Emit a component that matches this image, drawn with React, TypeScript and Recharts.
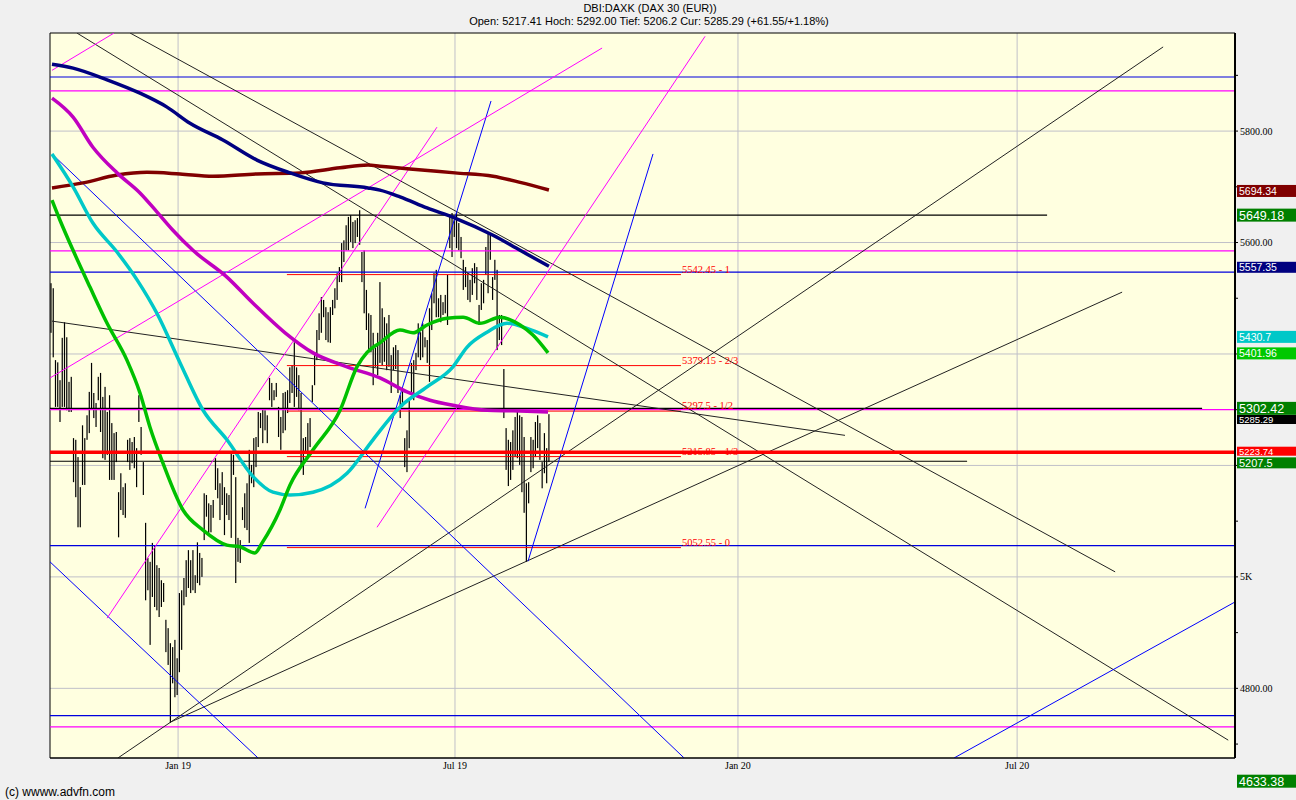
import React from "react";
import {
  ComposedChart,
  Bar,
  Line,
  XAxis,
  YAxis,
  CartesianGrid,
  ReferenceLine,
  ReferenceDot,
  ReferenceArea,
} from "recharts";

// x = trading day index (0 = first bar, Oct 2018), y = index points
const X_MIN = -0.44;
const X_MAX = 525.5;
const Y_MIN = 4675;
const Y_MAX = 5976;

const monthTicks = [56.4, 179.3, 304.9, 428.8];
const monthLabels = ["Jan 19", "Jul 19", "Jan 20", "Jul 20"];
const yTicks = [4700, 4800, 4900, 5000, 5100, 5200, 5300, 5400, 5500, 5600, 5700, 5800, 5900];
const yLabelled = [4800, 5000, 5600, 5800];
const gridLevels = [4800, 5000, 5200, 5400, 5600, 5800];

// daily [low, high]
const dailyRanges: [number, number][] = [
  [5438, 5527], [5394, 5518], [5305, 5389], [5305, 5385], [5278, 5353], [5305, 5429], [5305, 5457], [5299, 5430],
  [5296, 5350], [5296, 5359], [5170, 5249], [5143, 5246], [5089, 5215], [5089, 5161], [5165, 5272], [5165, 5249],
  [5246, 5290], [5258, 5332], [5303, 5384], [5285, 5330], [5269, 5312], [5317, 5359], [5260, 5366], [5213, 5323],
  [5210, 5341], [5219, 5296], [5174, 5326], [5174, 5276], [5174, 5258], [5206, 5260], [5071, 5152], [5120, 5186],
  [5111, 5161], [5106, 5168], [5206, 5246], [5192, 5249], [5204, 5242], [5195, 5251], [5161, 5231], [5278, 5326],
  [5219, 5269], [5147, 5206], [4958, 5097], [4976, 5034], [4878, 5027], [4964, 5061], [4946, 5057], [4940, 5021],
  [4928, 5016], [4946, 4994], [4955, 4989], [4865, 4923], [4842, 4908], [4738, 4881], [4809, 4874], [4784, 4887],
  [4788, 4854], [4829, 4971], [4869, 4976], [4949, 4998], [4964, 5030], [4980, 5048], [4971, 5030], [4976, 5048],
  [4971, 5003], [4989, 5062], [4985, 5043], [5000, 5034], [5066, 5150], [5108, 5147], [5079, 5132], [5080, 5129],
  [5106, 5138], [5156, 5213], [5141, 5195], [5102, 5168], [5129, 5188], [5075, 5161], [5111, 5150], [5102, 5147],
  [5070, 5222], [5183, 5219], [4989, 5179], [5027, 5070], [5025, 5066], [5102, 5125], [5088, 5150], [5084, 5168],
  [5061, 5228], [5168, 5201], [5161, 5249], [5197, 5251], [5233, 5296], [5267, 5294], [5240, 5303], [5263, 5299],
  [5240, 5290], [5317, 5357], [5305, 5348], [5317, 5335], [5323, 5348], [5251, 5305], [5228, 5287], [5258, 5330],
  [5263, 5332], [5294, 5335], [5312, 5376], [5330, 5380], [5305, 5421], [5323, 5376], [5299, 5362], [5197, 5330],
  [5183, 5249], [5222, 5251], [5213, 5276], [5233, 5285], [5314, 5344], [5344, 5398], [5389, 5443], [5425, 5473],
  [5438, 5502], [5466, 5497], [5425, 5484], [5421, 5475], [5420, 5484], [5470, 5497], [5482, 5518], [5497, 5545],
  [5529, 5556], [5529, 5599], [5565, 5604], [5586, 5631], [5586, 5646], [5601, 5649], [5590, 5637], [5599, 5640],
  [5610, 5644], [5596, 5658], [5529, 5583], [5473, 5586], [5443, 5515], [5402, 5473], [5403, 5470], [5344, 5438],
  [5377, 5411], [5362, 5438], [5384, 5529], [5380, 5482], [5386, 5466], [5371, 5455], [5377, 5470], [5330, 5398],
  [5371, 5412], [5373, 5416], [5330, 5407], [5285, 5326], [5305, 5335], [5197, 5249], [5188, 5263], [5231, 5321],
  [5326, 5384], [5317, 5389], [5371, 5402], [5394, 5455], [5389, 5439], [5394, 5455], [5412, 5430], [5384, 5425],
  [5350, 5482], [5443, 5509], [5491, 5545], [5466, 5551], [5466, 5500], [5457, 5506], [5470, 5493], [5473, 5506],
  [5452, 5542], [5590, 5646], [5574, 5653], [5610, 5640], [5590, 5653], [5586, 5635], [5572, 5610], [5515, 5569],
  [5520, 5556], [5497, 5545], [5493, 5533], [5506, 5554], [5527, 5563], [5497, 5556], [5452, 5488], [5479, 5527],
  [5491, 5533], [5542, 5592], [5509, 5617], [5569, 5617], [5497, 5538], [5533, 5569], [5407, 5551], [5425, 5470],
  [5416, 5470], [5285, 5373], [5192, 5267], [5163, 5246], [5174, 5242], [5192, 5263], [5215, 5287], [5213, 5296],
  [5201, 5290], [5152, 5287], [5115, 5251], [5027, 5168], [5132, 5170], [5188, 5251], [5195, 5246], [5215, 5278],
  [5231, 5290], [5210, 5276], [5159, 5206], [5186, 5258], [5168, 5231], [5206, 5292],
];

// moving averages, [t, value]
const maMaroon: [number, number][] = [
  [0.44, 5698], [14.2, 5707], [29.3, 5721], [42.6, 5726], [57.3, 5723], [71.9, 5719], [91.4, 5723], [110.5, 5725],
  [128.3, 5734], [140.7, 5739], [146, 5737], [159.3, 5732], [179.3, 5725], [196.2, 5719], [208.2, 5708], [221, 5694.34],
];
const maNavy: [number, number][] = [
  [0.44, 5920], [9.8, 5913], [24.9, 5892], [39.5, 5868], [51.5, 5843], [61.7, 5814], [76.3, 5784], [91.4, 5748],
  [106.1, 5725], [120.7, 5707], [140.7, 5698], [146, 5694], [154.9, 5682], [166.9, 5662], [179.3, 5644], [196.2, 5613],
  [208.2, 5586], [221, 5557.35],
];
const maPurple: [number, number][] = [
  [0.44, 5859], [9.8, 5825], [18.6, 5771], [29.3, 5725], [39.5, 5689], [47, 5655], [54.1, 5622], [63, 5586],
  [78.1, 5538], [89.7, 5491], [103.9, 5438], [116.3, 5402], [131.4, 5377], [146, 5357], [158, 5332], [168.2, 5317],
  [178.4, 5308], [193.5, 5299], [205.1, 5298], [220.6, 5296],
];
const maCyan: [number, number][] = [
  [0.44, 5759], [9.8, 5700], [18.6, 5635], [29.3, 5583], [38.2, 5533], [47, 5473], [57.3, 5384], [67.5, 5299],
  [78.1, 5246], [89.7, 5180], [98.5, 5152], [106.1, 5147], [116.3, 5152], [131.4, 5186], [142.9, 5246], [154.9, 5305],
  [166.9, 5341], [178.4, 5377], [184.6, 5412], [193.5, 5439], [202.4, 5455], [211.3, 5446], [220.6, 5430.7],
];
const maGreen: [number, number][] = [
  [0.44, 5676], [4, 5640], [9.8, 5586], [17.3, 5520], [24.9, 5455], [33.7, 5389], [39.5, 5330], [43.9, 5269],
  [49.7, 5204], [58.6, 5120], [67.5, 5084], [78.1, 5057], [83.9, 5054], [90.5, 5043], [93.7, 5061], [101.6, 5120],
  [106.1, 5165], [116.3, 5228], [128.3, 5299], [135.8, 5377], [140.3, 5403], [146, 5420], [154.9, 5443], [160.7, 5438],
  [166.9, 5452], [175.8, 5464], [182.9, 5466], [190.4, 5455], [199.3, 5466], [208.2, 5452], [213.9, 5434], [220.6, 5401.96],
];

// trendlines: [[t1, v1], [t2, v2]]
const blackTrends = [
  [[11.5, 5976], [522.5, 4707]],
  [[35.1, 5976], [472.3, 5009]],
  [[0.44, 5459], [352.4, 5254]],
  [[29.7, 4675], [493.6, 5951]],
  [[52.8, 4739], [475.4, 5511]],
];
const blueTrends = [
  [[0.44, 5759], [281, 4675]],
  [[-0.44, 5027], [91.9, 4675]],
  [[139.4, 5123], [195.3, 5854]],
  [[211.7, 5028], [267.2, 5759]],
  [[400.8, 4675], [525.5, 4955]],
];
const magentaTrends = [
  [[0.44, 5909], [28, 5976]],
  [[24.9, 4926], [171.3, 5807]],
  [[-0.44, 5357], [244.6, 5949]],
  [[144.7, 5089], [290.3, 5970]],
];

// horizontal levels
const blueLevels = [5897, 5547, 5056, 4751];
const magentaLevels = [5872, 5585, 5300, 4731];
const redLevel = 5223.74;
const blackLevels = [5649.18, 5302.42, 5207.5];
const blackLevelEnds = [442.1, 510.9, 406.6];

const fibLevels = [5542.45, 5379.15, 5297.5, 5215.85, 5052.55];
const fibNames = ["1", "2/3", "1/2", "1/3", "0"];
const fibStart = 104.7;
const fibEnd = 279.6;

// price tags on the right axis
const tagValues = [5694.34, 5649.18, 5557.35, 5430.7, 5401.96, 5302.42, 5285.29, 5223.74, 5207.5, 4633.38];
const tagColors = ["#800000", "#008000", "#000080", "#00c8c8", "#00c800", "#008000", "#000000", "#ff0000", "#008000", "#008000"];
const tagBig = [false, true, false, false, false, true, false, false, true, true];
// box height / vertical nudge so crowded tags stack like the original
const tagHeights = [12, 13, 11, 12, 12, 13, 9, 9, 11, 13];
const tagNudge = [1, 0, 1, 0, 0.5, 0, 1.6, -1, 1.6, 0];

const barData = dailyRanges.map((r, i) => ({ t: i, range: r }));
const toPts = (a: [number, number][]) => a.map(([t, v]) => ({ t, v }));

const SERIF = "'Liberation Serif', 'Times New Roman', serif";
const SANS = "'Liberation Sans', Arial, sans-serif";

const renderYTick = (p: any) => {
  const v = p.payload.value;
  if (!yLabelled.includes(v)) return <g />;
  const label = v === 5000 ? "5K" : v.toFixed(2);
  return (
    <text x={p.x} y={p.y} dy={3.5} fontSize={10} fontFamily={SERIF} fill="#000" textAnchor="start">
      {label}
    </text>
  );
};

const renderXTick = (p: any) => {
  const idx = monthTicks.indexOf(p.payload.value);
  return (
    <text x={p.x} y={p.y} dy={9} fontSize={10} fontFamily={SERIF} fill="#000" textAnchor="middle">
      {monthLabels[idx]}
    </text>
  );
};

const barShape = (p: any) => {
  const top = Math.min(p.y, p.y + p.height);
  const h = Math.abs(p.height);
  return <rect x={p.x + p.width / 2 - 0.6} y={top} width={1.2} height={h} fill="#000" />;
};

const tagShape = (text: string, bg: string, big: boolean, h: number, nudge: number) => (p: any) => {
  const top = p.cy + nudge - h / 2;
  const fs = big ? Math.min(12.5, h) : Math.min(10.5, h + 0.5);
  return (
    <g>
      <rect x={p.cx + 2} y={top} width={59} height={h} fill={bg} />
      <text
        x={p.cx + 4}
        y={top + h / 2 + fs * 0.36}
        fill="#fff"
        fontSize={fs}
        fontFamily={SANS}
      >
        {text}
      </text>
    </g>
  );
};

const fibShape = (text: string) => (p: any) => (
  <text x={p.cx + 1} y={p.cy - 2} fill="#ff0000" fontSize={10.5} fontFamily={SERIF}>
    {text}
  </text>
);

export default function App() {
  return (
    <div
      style={{
        position: "absolute",
        left: 0,
        top: 0,
        width: 1296,
        height: 800,
        background: "#f0f0f0",
        overflow: "hidden",
      }}
    >
      <div style={{ position: "absolute", top: 2, left: 0, width: 1300, textAlign: "center", fontFamily: SANS, fontSize: 11, color: "#000" }}>
        DBI:DAXK (DAX 30 (EUR))
      </div>
      <div style={{ position: "absolute", top: 15, left: 0, width: 1298, textAlign: "center", fontFamily: SANS, fontSize: 11, color: "#000" }}>
        Open: 5217.41 Hoch: 5292.00 Tief: 5206.2 Cur: 5285.29 (+61.55/+1.18%)
      </div>
      <div style={{ position: "absolute", top: 785, left: 5, fontFamily: SANS, fontSize: 12, color: "#000" }}>
        (c) wwww.advfn.com
      </div>

      <div style={{ position: "absolute", left: 0, top: 0 }}>
        <ComposedChart
          width={1296}
          height={800}
          data={barData}
          margin={{ top: 33, left: 50, right: 0, bottom: 0 }}
        >
          <CartesianGrid
            stroke="#c0c0c8"
            fill="#ffffe0"
            fillOpacity={1}
            horizontalValues={gridLevels}
            verticalValues={monthTicks}
          />
          <XAxis
            dataKey="t"
            type="number"
            domain={[X_MIN, X_MAX]}
            allowDataOverflow
            ticks={monthTicks}
            interval={0}
            height={42}
            tickSize={0}
            tickMargin={2}
            axisLine={{ stroke: "#000" }}
            tick={renderXTick}
          />
          <YAxis
            orientation="right"
            type="number"
            domain={[Y_MIN, Y_MAX]}
            allowDataOverflow
            ticks={yTicks}
            interval={0}
            width={61}
            tickSize={3}
            tickMargin={2}
            tickLine={{ stroke: "#000" }}
            axisLine={{ stroke: "#000", strokeWidth: 2 }}
            tick={renderYTick}
          />

          {blueLevels.map((v) => (
            <ReferenceLine key={`bl${v}`} y={v} stroke="#0000dd" strokeWidth={1.2} ifOverflow="hidden" />
          ))}
          {magentaLevels.map((v) => (
            <ReferenceLine key={`ml${v}`} y={v} stroke="#ff00ff" strokeWidth={1.2} ifOverflow="hidden" />
          ))}
          {blackLevels.map((v, i) => (
            <ReferenceLine
              key={`kl${v}`}
              segment={[{ x: X_MIN, y: v }, { x: blackLevelEnds[i], y: v }]}
              stroke="#000"
              strokeWidth={1.2}
              ifOverflow="hidden"
            />
          ))}
          {fibLevels.map((v) => (
            <ReferenceLine
              key={`fib${v}`}
              segment={[{ x: fibStart, y: v }, { x: fibEnd, y: v }]}
              stroke="#ff0000"
              strokeWidth={1}
              ifOverflow="hidden"
            />
          ))}

          {blackTrends.map((s, i) => (
            <ReferenceLine
              key={`bt${i}`}
              segment={[{ x: s[0][0], y: s[0][1] }, { x: s[1][0], y: s[1][1] }]}
              stroke="#222"
              strokeWidth={1}
              ifOverflow="hidden"
            />
          ))}
          {blueTrends.map((s, i) => (
            <ReferenceLine
              key={`blt${i}`}
              segment={[{ x: s[0][0], y: s[0][1] }, { x: s[1][0], y: s[1][1] }]}
              stroke="#0000ff"
              strokeWidth={1}
              ifOverflow="hidden"
            />
          ))}
          {magentaTrends.map((s, i) => (
            <ReferenceLine
              key={`mt${i}`}
              segment={[{ x: s[0][0], y: s[0][1] }, { x: s[1][0], y: s[1][1] }]}
              stroke="#ff00ff"
              strokeWidth={1}
              ifOverflow="hidden"
            />
          ))}

          <Line data={toPts(maMaroon)} dataKey="v" type="monotone" stroke="#800000" strokeWidth={3.5} dot={false} isAnimationActive={false} />
          <Line data={toPts(maNavy)} dataKey="v" type="monotone" stroke="#000080" strokeWidth={3.5} dot={false} isAnimationActive={false} />
          <Line data={toPts(maPurple)} dataKey="v" type="monotone" stroke="#c000c0" strokeWidth={3.5} dot={false} isAnimationActive={false} />
          <Line data={toPts(maCyan)} dataKey="v" type="monotone" stroke="#00c8c8" strokeWidth={3.5} dot={false} isAnimationActive={false} />
          <Line data={toPts(maGreen)} dataKey="v" type="monotone" stroke="#00c000" strokeWidth={3.5} dot={false} isAnimationActive={false} />

          <Bar dataKey="range" barSize={1} fill="#000" shape={barShape} isAnimationActive={false} />

          <ReferenceLine y={redLevel} stroke="#ff0000" strokeWidth={3.5} ifOverflow="hidden" />

          {fibLevels.map((v, i) => (
            <ReferenceDot
              key={`fl${v}`}
              x={fibEnd}
              y={v}
              ifOverflow="visible"
              shape={fibShape(`${v} - ${fibNames[i]}`)}
            />
          ))}

          <ReferenceArea x1={X_MIN} x2={X_MAX} y1={Y_MIN} y2={Y_MAX} fill="none" stroke="#000" ifOverflow="visible" />

          {tagValues.map((v, i) => (
            <ReferenceDot
              key={`tag${v}`}
              x={X_MAX}
              y={v}
              ifOverflow="visible"
              shape={tagShape(String(v), tagColors[i], tagBig[i], tagHeights[i], tagNudge[i])}
            />
          ))}
        </ComposedChart>
      </div>
    </div>
  );
}
